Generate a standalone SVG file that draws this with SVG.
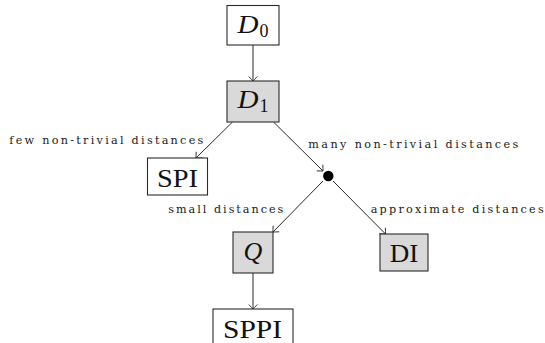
<svg xmlns="http://www.w3.org/2000/svg" width="545" height="343" viewBox="0 0 545 343">
  <style>
    .box { stroke: #2a2a2a; stroke-width: 1.1; fill: #ffffff; }
    .box.shaded { fill: #d9d9d9; }
    .main { font-family: "Liberation Serif", "DejaVu Serif", serif; font-size: 26px; fill: #111; }
    .math { font-style: italic; }
    .sub { font-family: "Liberation Serif", "DejaVu Serif", serif; font-size: 18px; fill: #111; }
    .lbl { font-family: "DejaVu Serif", "Liberation Serif", serif; font-size: 11.2px; fill: #1a1a1a; }
    .edge { stroke: #2a2a2a; stroke-width: 1; fill: none; marker-end: url(#to); }
  </style>
  <defs>
    <marker id="to" markerUnits="userSpaceOnUse" orient="auto" refX="0" refY="0" markerWidth="12" markerHeight="12" viewBox="-6 -6 12 12" overflow="visible">
      <path d="M -4.2 -4 Q -1.2 -1.2 0 0 Q -1.2 1.2 -4.2 4" fill="none" stroke="#2a2a2a" stroke-width="0.9" stroke-linecap="round"/>
    </marker>
  </defs>

  <rect width="545" height="343" fill="#ffffff"/>

  <!-- connectors -->
  <g id="edges">
    <line class="edge" x1="253" y1="45" x2="253" y2="81"/>
    <line class="edge" x1="232.5" y1="122" x2="196" y2="158"/>
    <line class="edge" x1="273.5" y1="122" x2="323" y2="171"/>
    <line class="edge" x1="323" y1="181" x2="273" y2="232"/>
    <line class="edge" x1="333" y1="181" x2="385.5" y2="234"/>
    <line class="edge" x1="253" y1="273" x2="253" y2="309"/>
    <text class="lbl" x="9.3" y="144" textLength="194" lengthAdjust="spacing">few non-trivial distances</text>
    <text class="lbl" x="308.3" y="148" textLength="210" lengthAdjust="spacing">many non-trivial distances</text>
    <text class="lbl" x="168.3" y="213" textLength="115" lengthAdjust="spacing">small distances</text>
    <text class="lbl" x="370.7" y="213" textLength="173" lengthAdjust="spacing">approximate distances</text>
  </g>

  <!-- nodes -->
  <g id="D0">
    <rect class="box" x="227" y="5.5" width="52" height="39.5"/>
    <text class="main math" x="237.5" y="33.3" textLength="21" lengthAdjust="spacingAndGlyphs">D</text>
    <text class="sub" x="259.5" y="36.7">0</text>
  </g>
  <g id="D1">
    <rect class="box shaded" x="227" y="81" width="52" height="41"/>
    <text class="main math" x="237.5" y="108.3" textLength="21" lengthAdjust="spacingAndGlyphs">D</text>
    <text class="sub" x="259.5" y="111.7">1</text>
  </g>
  <g id="SPI">
    <rect class="box" x="147.5" y="158" width="60" height="37"/>
    <text class="main" x="177.5" y="186.7" text-anchor="middle" textLength="41" lengthAdjust="spacingAndGlyphs">SPI</text>
  </g>
  <g id="branch">
    <circle cx="328.3" cy="176" r="5.2" fill="#000"/>
  </g>
  <g id="Q">
    <rect class="box shaded" x="233" y="232" width="40" height="41"/>
    <text class="main math" x="253" y="259.5" text-anchor="middle">Q</text>
  </g>
  <g id="DI">
    <rect class="box shaded" x="380" y="234" width="48" height="37"/>
    <text class="main" x="404" y="261.7" text-anchor="middle" textLength="28.5" lengthAdjust="spacingAndGlyphs">DI</text>
  </g>
  <g id="SPPI">
    <rect class="box" x="213" y="309" width="80" height="38"/>
    <text class="main" x="252.5" y="338.3" text-anchor="middle" textLength="59" lengthAdjust="spacingAndGlyphs">SPPI</text>
  </g>
</svg>
